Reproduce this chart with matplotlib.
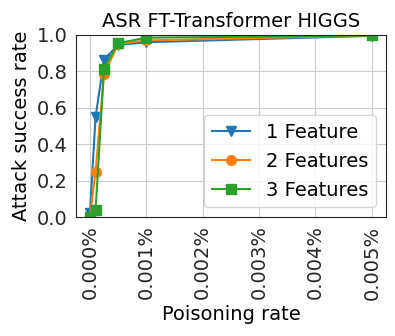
import matplotlib
matplotlib.use("Agg")
import matplotlib.pyplot as plt
from matplotlib.ticker import FuncFormatter

# poisoning rate in percent
rates = [0.0, 0.0001, 0.00025, 0.0005, 0.001, 0.005]
asr_1 = [0.02, 0.55, 0.865, 0.945, 0.96, 0.995]
asr_2 = [0.0, 0.25, 0.785, 0.95, 0.97, 0.997]
asr_3 = [0.0, 0.04, 0.815, 0.955, 0.985, 0.997]
labels = ['1 Feature', '2 Features', '3 Features']
yticks = [0.0, 0.2, 0.4, 0.6, 0.8, 1.0]

plt.rcParams['font.size'] = 14

fig = plt.figure(figsize=(3.95, 3.36), dpi=100)
ax = fig.add_axes([0.192, 0.354, 0.785, 0.542])

ax.plot(rates, asr_1, marker='v', ms=7, color='#1f77b4', label=labels[0])
ax.plot(rates, asr_2, marker='o', ms=7, color='#ff7f0e', label=labels[1])
ax.plot(rates, asr_3, marker='s', ms=7, color='#2ca02c', label=labels[2])

ax.set_ylim(0, 1.0)
ax.set_yticks(yticks)
ax.set_xticks([0, 0.001, 0.002, 0.003, 0.004, 0.005])
ax.xaxis.set_major_formatter(FuncFormatter(lambda v, p: '%.3f%%' % v))
ax.tick_params(axis='x', rotation=90)
ax.grid(True, color='#cccccc')
ax.set_axisbelow(True)
for s in ax.spines.values():
    s.set_color('#262626')
ax.tick_params(length=0, pad=6, colors='#262626')

ax.set_title('ASR FT-Transformer HIGGS', fontsize=14)
ax.set_xlabel('Poisoning rate')
ax.set_ylabel('Attack success rate')
ax.legend(loc='lower right')

fig.savefig('out.png')
